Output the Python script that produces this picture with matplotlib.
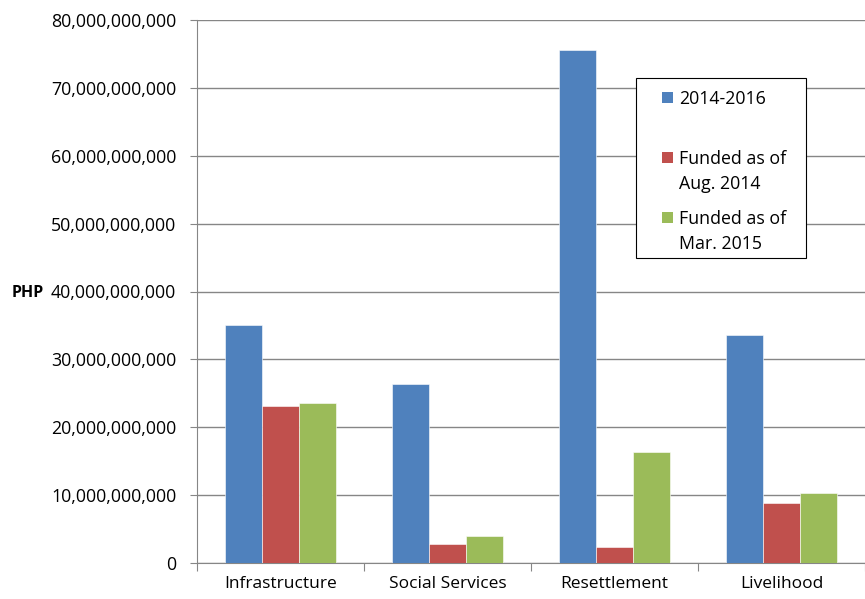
import numpy as np
import matplotlib.pyplot as plt
from matplotlib.patches import Rectangle
from matplotlib.ticker import FuncFormatter

categories = ['Infrastructure', 'Social Services', 'Resettlement', 'Livelihood']
plan_2014_2016 = [35.1e9, 26.4e9, 75.6e9, 33.6e9]
funded_aug_2014 = [23.1e9, 2.8e9, 2.4e9, 8.9e9]
funded_mar_2015 = [23.6e9, 4.0e9, 16.4e9, 10.3e9]
series_labels = ['2014-2016', 'Funded as of\nAug. 2014', 'Funded as of\nMar. 2015']
colors = ['#4F81BD', '#C0504D', '#9BBB59']

plt.rcParams['font.family'] = ['Open Sans', 'DejaVu Sans']

fig = plt.figure(figsize=(8.65, 5.99), dpi=100)
ax = fig.add_axes([197/865, 1 - 563/599, 1 - 197/865, (563 - 20)/599])

x = np.arange(len(categories))
w = 1 / 4.5
for i, vals in enumerate([plan_2014_2016, funded_aug_2014, funded_mar_2015]):
    ax.bar(x + (i - 1) * w, vals, width=w, color=colors[i],
           edgecolor='white', linewidth=0.4, zorder=3)

ax.set_ylim(0, 80e9)
ax.set_xlim(-0.5, 3.5)
ax.set_yticks(np.arange(0, 80e9 + 1, 10e9))
ax.yaxis.set_major_formatter(FuncFormatter(lambda v, p: f'{v:,.0f}'))
ax.grid(axis='y', color='#868686', linewidth=1, zorder=0)

# category boundaries as ticks, names as minor tick labels
ax.set_xticks(np.arange(-0.5, 4, 1))
ax.set_xticklabels([])
ax.set_xticks(x, minor=True)
ax.set_xticklabels(categories, minor=True, fontsize=12.5)
ax.tick_params(axis='x', which='minor', length=0, pad=9)
ax.tick_params(axis='x', which='major', length=6, color='#868686')
ax.tick_params(axis='y', length=5, color='#868686', pad=10, labelsize=12.8)

for s in ['top', 'right']:
    ax.spines[s].set_visible(False)
for s in ['left', 'bottom']:
    ax.spines[s].set_color('#868686')

fig.text(12/865, 1 - 293/599, 'PHP', fontsize=11.5, fontweight='bold', va='center')

# legend box
fig.patches.append(Rectangle((636/865, 1 - 258/599), 170/865, 180/599,
                             transform=fig.transFigure, facecolor='white',
                             edgecolor='black', linewidth=0.8, zorder=5))
leg_y = [97, 157, 217]
for c, lab, yy in zip(colors, series_labels, leg_y):
    fig.patches.append(Rectangle((662/865, 1 - (yy + 6)/599), 11/865, 11/599,
                                 transform=fig.transFigure, facecolor=c,
                                 edgecolor='none', zorder=6))
    fig.text(679/865, 1 - (yy - 7)/599, lab, fontsize=12.8, va='top',
             linespacing=1.5, zorder=7)

fig.savefig('out.png', dpi=100)
